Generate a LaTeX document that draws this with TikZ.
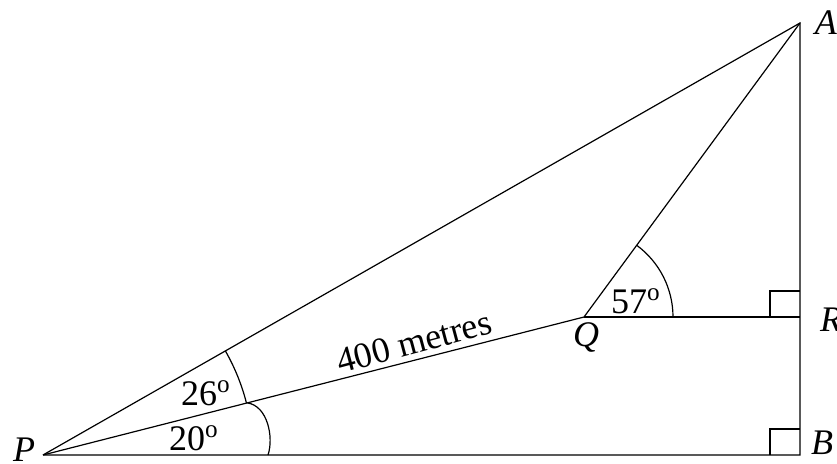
\documentclass[tikz,border=0pt]{standalone}
\usepackage{fontspec}
\setmainfont{Liberation Serif}
\usetikzlibrary{calc}

\begin{document}
\begin{tikzpicture}[x=0.5pt,y=0.5pt,line width=0.6pt,
  lbl/.style={font=\fontsize{18}{20}\selectfont,inner sep=0pt}]
  \useasboundingbox (0,0) rectangle (837,463);
  % the five points
  \coordinate (P) at (43,8);
  \coordinate (B) at (800,8);
  \coordinate (R) at (800,146);
  \coordinate (A) at (800,440);
  \coordinate (Q) at (584,146);
  % the sides
  \draw (P) -- (B) -- (A) -- (P);
  \draw (P) -- (Q) -- (A);
  \draw (Q) -- (R);
  % the right angles at R and B
  \draw ($(R)+(-30,0)$) -- ++(0,26) -- ++(30,0);
  \draw ($(B)+(-30,0)$) -- ++(0,26) -- ++(30,0);
  % the angle arcs
  \draw (P) ++(29.7:210) arc[start angle=29.7,end angle=14.3,radius=210];
  \draw (P) ++(14.3:211) .. controls +(20,-3) and +(6,18) .. ($(P)+(225,0)$);
  \draw (Q) ++(0:89) arc[start angle=0,end angle=53.7,radius=89];
  % the labels
  \node[lbl] (labP) at (24,13) {\textit{P}};
  \node[lbl] (labA) at (826,440) {\textit{A}};
  \node[lbl] (labR) at (831,143) {\textit{R}};
  \node[lbl] (labB) at (822,20) {\textit{B}};
  \node[lbl] (labQ) at (586,126) {\textit{Q}};
  \node[lbl] (ang57) at (636,162) {57\textsuperscript{o}};
  \node[lbl] (ang26) at (206,70) {26\textsuperscript{o}};
  \node[lbl] (ang20) at (194,25) {20\textsuperscript{o}};
  \node[lbl,rotate=15] (dist) at (414,121) {400 metres};
\end{tikzpicture}
\end{document}
